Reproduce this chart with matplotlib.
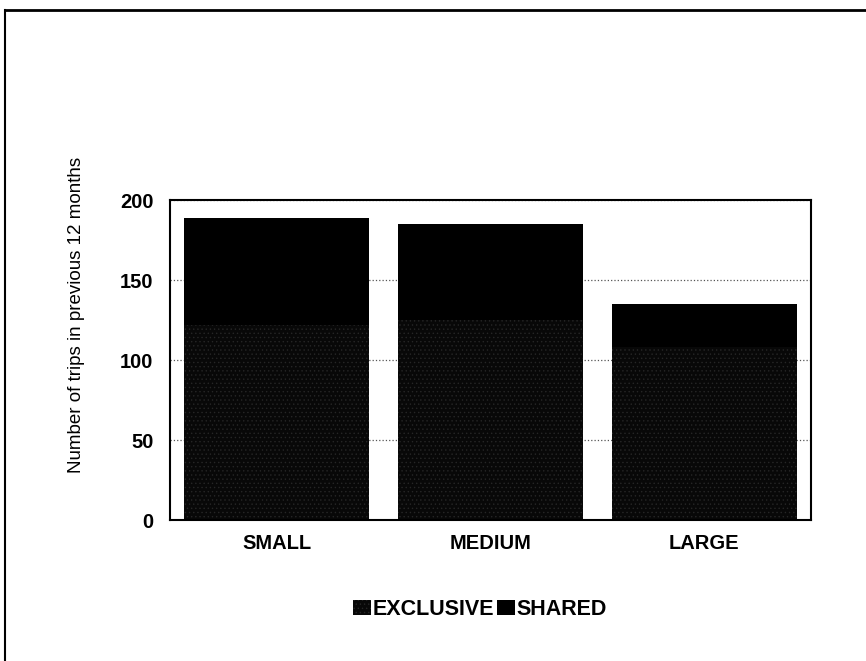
import matplotlib.pyplot as plt
from matplotlib.lines import Line2D
import numpy as np

plt.rcParams['font.family'] = ['Liberation Sans', 'DejaVu Sans']
plt.rcParams['hatch.linewidth'] = 0.5

# Daten
categories = ['SMALL', 'MEDIUM', 'LARGE']
exclusive = [122, 125, 108]
shared = [67, 60, 27]
yticks = [0, 50, 100, 150, 200]

x = np.arange(len(categories))

fig = plt.figure(figsize=(8.66, 6.61), dpi=100)
ax = fig.add_axes([0.1963, 0.2133, 0.7402, 0.4841])

ax.bar(x, exclusive, width=0.866, color='#080808', hatch='....',
       edgecolor='#262626', linewidth=0, label='EXCLUSIVE', zorder=2)
ax.bar(x, shared, width=0.866, bottom=exclusive, color='black',
       linewidth=0, label='SHARED', zorder=2)

ax.set_xlim(-0.5, 2.5)
ax.set_ylim(0, 200)
ax.set_yticks(yticks)
ax.set_xticks(x)
ax.set_xticklabels(categories, fontweight='bold', fontsize=14.5)
for t in ax.get_yticklabels():
    t.set_fontweight('bold')
    t.set_fontsize(14.5)
ax.tick_params(axis='y', length=0, pad=12)
ax.tick_params(axis='x', length=0, pad=10)
ax.yaxis.grid(True, linestyle=':', color='#555555', linewidth=0.9, zorder=0)
for s in ax.spines.values():
    s.set_linewidth(1.5)
    s.set_color('black')

ax.set_ylabel('Number of trips in previous 12 months', fontsize=13.5)
ax.yaxis.set_label_coords(-0.133, 0.64)

# Legende unten
ax.legend(loc='center', bbox_to_anchor=(0.484, -0.28), ncol=2, frameon=False,
          prop={'weight': 'bold', 'size': 15.5}, handlelength=0.8,
          handleheight=0.65, handletextpad=0.1, columnspacing=0.15)

# aeusserer Rahmen
fig.add_artist(Line2D([5 / 866, 5 / 866], [0, 1 - 10 / 661], color='black', lw=1.5))
fig.add_artist(Line2D([5 / 866, 1], [1 - 10 / 661, 1 - 10 / 661], color='black', lw=2))

plt.savefig('out.png', dpi=100)
